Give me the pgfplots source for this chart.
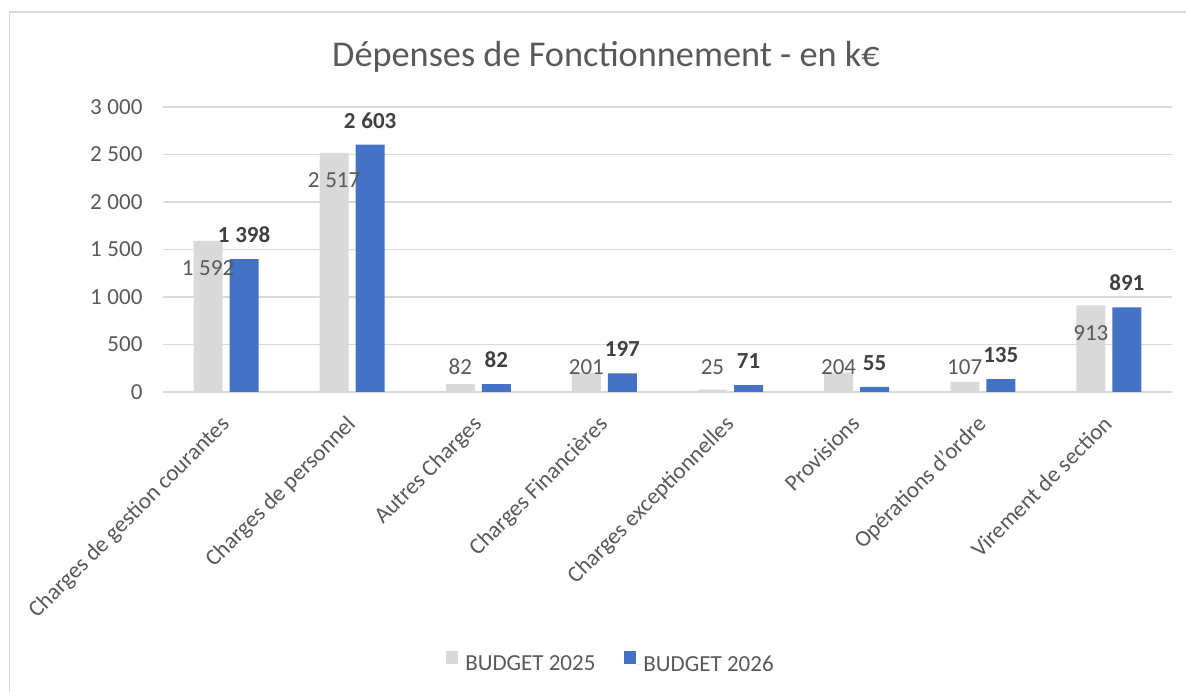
\documentclass[border=0pt]{standalone}
\usepackage{fontspec}
\setmainfont{Carlito}
\usepackage{pgfplots}
\pgfplotsset{compat=1.18}
\definecolor{gbar}{HTML}{D9D9D9}
\definecolor{bbar}{HTML}{4472C4}
\definecolor{txt}{HTML}{595959}
\definecolor{btxt}{HTML}{404040}
\definecolor{gridc}{HTML}{D9D9D9}
\begin{document}
\begin{tikzpicture}
\useasboundingbox (0pt,0pt) rectangle (1186pt,692pt);
\draw[gridc, line width=1.5pt] (9.5pt,0pt) -- (9.5pt,680pt) -- (1186pt,680pt);
\node[anchor=base, text=txt, font=\fontsize{36.3}{40}\selectfont] at (606pt,625pt) {Dépenses de Fonctionnement - en k€};
\begin{axis}[
  at={(163pt,300pt)}, anchor=south west,
  scale only axis, width=1009pt, height=285pt,
  xmin=-0.5, xmax=7.5, ymin=0, ymax=3000,
  ytick={0,500,...,3000},
  xtick={-0.055,0.945,1.945,2.945,3.945,4.945,5.945,6.945},
  xticklabels={Charges de gestion courantes, Charges de personnel, Autres Charges, Charges Financières, Charges exceptionnelles, Provisions, Opérations d'ordre, Virement de section},
  axis line style={draw=none},
  major tick length=0pt,
  ymajorgrids, grid style={gridc, line width=1.5pt},
  tick label style={text=txt, font=\fontsize{23}{27}\selectfont},
  /pgf/number format/assume math mode=true,
  /pgf/number format/1000 sep={\kern0.25em},
  yticklabel style={xshift=-17pt},
  xticklabel style={rotate=45, anchor=north east, inner sep=0pt},
  xticklabel shift=22pt,
  legend columns=2,
  legend style={at={(axis description cs:0.444,-0.951)}, anchor=center, draw=none, fill=none,
    font=\fontsize{23}{26}\selectfont, text=txt,
    /tikz/every even column/.append style={column sep=27pt}},
  legend image code/.code={\fill[#1] (0pt,0pt) rectangle (12pt,13pt); \path (12pt,0pt) -- (17pt,0pt);},
  clip=false,
]
\addplot[ybar, bar width=29pt, bar shift=-18pt, fill=gbar, draw=none] coordinates {
  (0,1592) (1,2517) (2,82) (3,201) (4,25) (5,204) (6,107) (7,913)};
\addlegendentry{BUDGET 2025}
\addplot[ybar, bar width=29pt, bar shift=18pt, fill=bbar, draw=none,
  nodes near coords, point meta=y,
  nodes near coords style={anchor=south, xshift=18pt, yshift=13pt, text=btxt, font=\fontsize{23}{26}\selectfont\bfseries,
    /pgf/number format/1000 sep={\kern0.25em}, /pgf/number format/assume math mode=true}] coordinates {
  (0,1398) (1,2603) (2,82) (3,197) (4,71) (5,55) (6,135) (7,891)};
\addlegendentry{BUDGET 2026}
\addplot[draw=none, forget plot, nodes near coords, point meta=explicit symbolic,
  nodes near coords style={anchor=base, text=txt, font=\fontsize{23}{26}\selectfont}] coordinates {
  (-0.143,1224) [1\kern0.25em592]
  (0.857,2149) [2\kern0.25em517]
  (1.857,179) [82]
  (2.857,179) [201]
  (3.857,179) [25]
  (4.857,179) [204]
  (5.857,179) [107]
  (6.857,545) [913]};
\end{axis}
\end{tikzpicture}
\end{document}
